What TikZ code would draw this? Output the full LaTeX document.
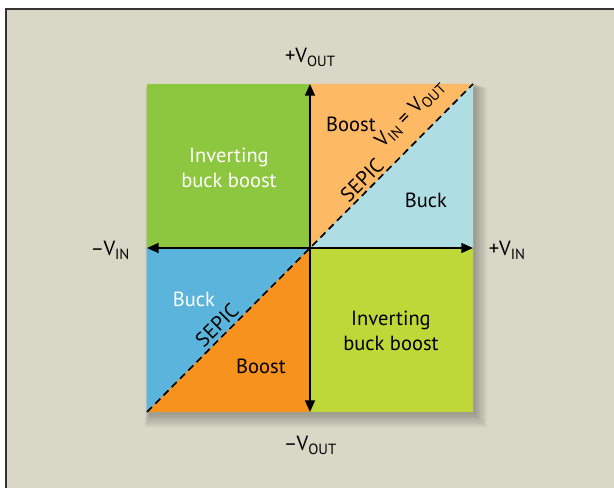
\documentclass[tikz,border=0pt]{standalone}
\usepackage{fontspec}
\setmainfont{PT Sans}
\usetikzlibrary{arrows.meta,calc}
\definecolor{bgbeige}{HTML}{D9D7C5}
\definecolor{qgreen}{HTML}{8DC63F}
\definecolor{qlime}{HTML}{BED839}
\definecolor{lorange}{HTML}{FDB964}
\definecolor{lblue}{HTML}{AEDDE4}
\definecolor{dblue}{HTML}{5AB4DC}
\definecolor{dorange}{HTML}{F7921E}
\newcommand{\vsub}[1]{\raisebox{-3.4pt}{\fontsize{12.6}{13}\selectfont #1}}

\begin{document}
\begin{tikzpicture}[x=0.03cm,y=0.03cm,every node/.style={font=\fontsize{17.5}{21}\selectfont},
  axis/.style={line width=1.5pt,{Triangle[length=10pt,width=8.5pt]}-{Triangle[length=10pt,width=8.5pt]}},
  diag/.style={line width=1.4pt,dash pattern=on 6pt off 4pt},
  wlab/.style={text=white,align=center},
  blab/.style={text=black,align=center},
  slab/.style={text=black,rotate=45,anchor=base,inner sep=0pt}]
\useasboundingbox (-310,-240) rectangle (304,248);
\fill[white] (-310,-240) rectangle (304,248);
\fill[bgbeige] (-304,-260) rectangle (320,239);
\draw[line width=1.3pt,black!80] (-304,-260) -- (-304,239) -- (320,239);
% corners of the square and axis ends
\coordinate (o) at (0,0);
\coordinate (sw) at (-163,-164);
\coordinate (se) at (163,-164);
\coordinate (ne) at (163,164);
\coordinate (nw) at (-163,164);
\coordinate (w) at (-163,0);
\coordinate (e) at (163,0);
\coordinate (n) at (0,164);
\coordinate (s) at (0,-164);
% soft shadow
\foreach \i in {1,...,8}
  \fill[black,opacity=0.035] ($(sw)+(-\i*0.6+3,-\i*1.8-1)$) rectangle ($(ne)+(\i*1.6+1,-\i*0.6+1)$);
% quadrants
\fill[qgreen] (nw) rectangle (o);
\fill[qlime] (o) rectangle (se);
\fill[lorange] (n) -- (ne) -- (o) -- cycle;
\fill[lblue] (o) -- (ne) -- (e) -- cycle;
\fill[dblue] (w) -- (o) -- (sw) -- cycle;
\fill[dorange] (sw) -- (o) -- (s) -- cycle;
% axes and diagonal
\draw[diag] (sw) -- (ne);
\draw[axis] (w) -- (e);
\draw[axis] (s) -- (n);
% labels
\node (vouttop) at (0,191) {+V\vsub{OUT}};
\node (voutbot) at (0,-197) {–V\vsub{OUT}};
\node (vinleft) at (-200,-2) {–V\vsub{IN}};
\node (vinright) at (197,-2) {+V\vsub{IN}};
\node[wlab] (invnw) at (-81,80) {Inverting\\buck boost};
\node[blab] (invse) at (81,-83) {Inverting\\buck boost};
\node[blab] (boostne) at (41,124) {Boost};
\node[blab] (buckne) at (116,48) {Buck};
\node[wlab] (bucksw) at (-116,-51) {Buck};
\node[blab] (boostsw) at (-49,-118) {Boost};
\node[slab] (sepicne) at (57,63) {SEPIC};
\node[slab] (sepicsw) at (-88,-82) {SEPIC};
\node[blab,rotate=45] (equal) at (100,134) {V\vsub{IN} = V\vsub{OUT}};
\end{tikzpicture}
\end{document}
